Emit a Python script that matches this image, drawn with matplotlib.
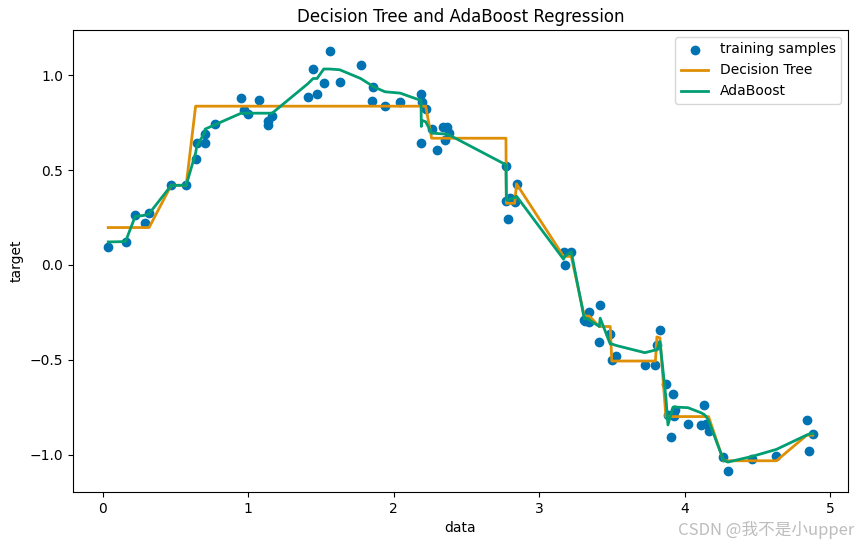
import matplotlib
matplotlib.use("Agg")
import matplotlib.pyplot as plt
import numpy as np
import seaborn as sns

# 颜色: seaborn colorblind
colors = sns.color_palette("colorblind")

# 训练样本 (x 已排序)
X = np.array([0.037, 0.156, 0.222, 0.291, 0.318, 0.470, 0.573, 0.638, 0.646, 0.701,
              0.703, 0.770, 0.951, 0.969, 0.999, 1.074, 1.134, 1.138, 1.164, 1.409,
              1.446, 1.473, 1.519, 1.560, 1.629, 1.773, 1.851, 1.856, 1.940, 2.044,
              2.188, 2.190, 2.195, 2.220, 2.261, 2.296, 2.339, 2.351, 2.364, 2.382,
              2.772, 2.775, 2.786, 2.800, 2.832, 2.845, 3.168, 3.177, 3.221, 3.311,
              3.313, 3.343, 3.345, 3.414, 3.420, 3.489, 3.500, 3.530, 3.727, 3.800,
              3.810, 3.831, 3.872, 3.886, 3.906, 3.922, 3.931, 3.935, 4.023, 4.114,
              4.137, 4.149, 4.165, 4.268, 4.298, 4.465, 4.632, 4.841, 4.854, 4.882])
y = np.array([0.093, 0.121, 0.264, 0.223, 0.276, 0.419, 0.420, 0.558, 0.642, 0.642,
              0.691, 0.744, 0.880, 0.818, 0.795, 0.871, 0.739, 0.761, 0.786, 0.885,
              1.033, 0.902, 0.959, 1.128, 0.964, 1.054, 0.865, 0.938, 0.837, 0.857,
              0.902, 0.642, 0.857, 0.822, 0.719, 0.607, 0.727, 0.658, 0.727, 0.693,
              0.522, 0.336, 0.241, 0.355, 0.332, 0.427, 0.067, -0.002, 0.069, -0.290,
              -0.294, -0.248, -0.299, -0.406, -0.213, -0.366, -0.503, -0.480, -0.526, -0.526,
              -0.422, -0.345, -0.630, -0.790, -0.908, -0.682, -0.798, -0.765, -0.839, -0.846,
              -0.740, -0.839, -0.874, -1.015, -1.087, -1.024, -1.006, -0.818, -0.983, -0.892])

# 决策树预测 (max_depth=4)
y_dt = np.array([0.197, 0.197, 0.197, 0.197, 0.197, 0.420, 0.420, 0.837, 0.837, 0.837,
                 0.837, 0.837, 0.837, 0.837, 0.837, 0.837, 0.837, 0.837, 0.837, 0.837,
                 0.837, 0.837, 0.837, 0.837, 0.837, 0.837, 0.837, 0.837, 0.837, 0.837,
                 0.837, 0.837, 0.837, 0.837, 0.668, 0.668, 0.668, 0.668, 0.668, 0.668,
                 0.668, 0.325, 0.325, 0.325, 0.325, 0.427, 0.045, 0.045, 0.045, -0.270,
                 -0.270, -0.270, -0.270, -0.325, -0.325, -0.325, -0.507, -0.507, -0.507, -0.507,
                 -0.380, -0.385, -0.800, -0.800, -0.800, -0.800, -0.800, -0.800, -0.800, -0.800,
                 -0.800, -0.800, -0.800, -1.033, -1.033, -1.033, -1.033, -0.898, -0.898, -0.898])

# AdaBoost 预测
y_ab = np.array([0.121, 0.123, 0.255, 0.262, 0.270, 0.419, 0.420, 0.590, 0.625, 0.700,
                 0.716, 0.739, 0.800, 0.800, 0.800, 0.800, 0.800, 0.800, 0.800, 0.955,
                 0.983, 0.983, 1.033, 1.033, 1.029, 0.983, 0.945, 0.941, 0.913, 0.906,
                 0.867, 0.730, 0.762, 0.755, 0.695, 0.693, 0.691, 0.690, 0.690, 0.685,
                 0.528, 0.343, 0.340, 0.347, 0.355, 0.362, 0.030, 0.045, 0.069, -0.285,
                 -0.278, -0.287, -0.290, -0.325, -0.281, -0.417, -0.417, -0.425, -0.463, -0.449,
                 -0.449, -0.405, -0.700, -0.844, -0.790, -0.750, -0.748, -0.750, -0.753, -0.780,
                 -0.790, -0.800, -0.820, -1.030, -1.040, -1.010, -0.973, -0.897, -0.893, -0.890])

fig = plt.figure(figsize=(8.58, 5.45), dpi=100)
ax = fig.add_axes([73 / 858, 53 / 545, 775 / 858, 462 / 545])

ax.scatter(X, y, color=colors[0], label="training samples")
ax.plot(X, y_dt, color=colors[1], label="Decision Tree", linewidth=2)
ax.plot(X, y_ab, color=colors[2], label="AdaBoost", linewidth=2)
ax.set_xlabel("data")
ax.set_ylabel("target")
ax.set_title("Decision Tree and AdaBoost Regression")
ax.legend()

# 水印
fig.text(0.996, 0.027, "CSDN @我不是小upper", ha="right", va="center", fontsize=12,
         color="#bdbdbd", family=["Noto Sans CJK SC", "DejaVu Sans"])

fig.savefig("out.png", dpi=100)
